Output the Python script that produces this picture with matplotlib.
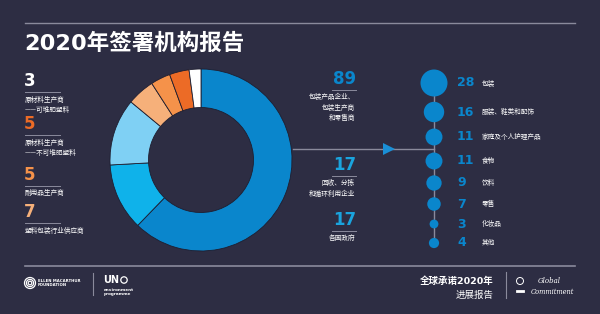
import matplotlib
matplotlib.use("Agg")
import matplotlib.pyplot as plt
from matplotlib.patches import Circle

plt.rcParams['font.family'] = ['Lato', 'Noto Sans CJK SC', 'DejaVu Sans']
CJK = ['Noto Sans CJK SC', 'DejaVu Sans']
NUM = ['DejaVu Sans']
BOLDMIX = ['DejaVu Sans', 'Noto Sans CJK SC']

BG = '#2d2d43'
GREY = '#8a8a9c'

# ---------------- data ----------------
donut_values = [89, 17, 17, 7, 5, 5, 3]
donut_colors = ['#0a86cc', '#0fb2ea', '#7fd0f4', '#f6b07a', '#f5924a', '#ec6b26', '#ffffff']

left_values = [3, 5, 5, 7]
left_labels = ['原材料生产商\n——可堆肥塑料', '原材料生产商\n——不可堆肥塑料', '耐用品生产商', '塑料包装行业供应商']
left_colors = ['#ffffff', '#ec6b26', '#f5924a', '#f6b07a']

mid_values = [89, 17, 17]
mid_labels = ['包装产品企业、\n包装生产商\n和零售商', '回收、分拣\n和循环利用企业', '各国政府']
mid_colors = ['#0a86cc', '#1aa4de', '#1aa4de']

sector_values = [28, 16, 11, 11, 9, 7, 3, 4]
sector_labels = ['包装', '服装、鞋类和配饰', '家庭及个人护理产品', '食物', '饮料', '零售', '化妆品', '其他']

title = '2020年签署机构报告'

# ---------------- figure ----------------
W, H = 600, 314
fig = plt.figure(figsize=(W / 100, H / 100), dpi=100, facecolor=BG)
ax = fig.add_axes([0, 0, 1, 1])
ax.set_xlim(0, W)
ax.set_ylim(H, 0)
ax.axis('off')
ax.set_facecolor(BG)

# title & rules
ax.plot([25, 575], [23, 23], color=GREY, lw=1)
ax.text(24, 43, title, color='white', fontsize=16.2, fontweight='bold', va='center', ha='left',
        family=BOLDMIX)
ax.plot([25, 575], [266, 266], color=GREY, lw=1.2)

# donut
cx, cy, R = 201, 160, 91
dax = fig.add_axes([(cx - R) / W, (H - cy - R) / H, 2 * R / W, 2 * R / H])
dax.pie(donut_values, colors=donut_colors, startangle=90, counterclock=False,
        radius=1, wedgeprops=dict(width=1 - 52.5 / 91, edgecolor='#1e1e30', linewidth=0.6))
dax.set_xlim(-1, 1)
dax.set_ylim(-1, 1)
dax.set_aspect('auto')
dax.axis('off')

# left annotations
left_num_y = [81, 124, 175, 212]
for v, lab, c, y in zip(left_values, left_labels, left_colors, left_num_y):
    ax.text(24, y, str(v), color=c, fontsize=12, fontweight='bold', va='center', ha='left', family=NUM)
    ax.plot([25, 60], [y + 11, y + 11], color=GREY, lw=0.7)
    ax.text(25, y + 14.5, lab, color='white', fontsize=4.8, va='top', ha='left',
            linespacing=1.45, family=CJK)

# middle annotations
mid_num_y = [79, 165, 220]
for v, lab, c, y in zip(mid_values, mid_labels, mid_colors, mid_num_y):
    ax.text(356, y, str(v), color=c, fontsize=12, fontweight='bold', va='center', ha='right', family=NUM)
    ax.plot([332, 356], [y + 11, y + 11], color=GREY, lw=0.7)
    ax.text(355, y + 14, lab, color='white', fontsize=4.8, va='top', ha='right',
            linespacing=1.45, family=CJK)

# arrow line
ax.plot([cx + R + 1, 434], [149, 149], color=GREY, lw=1)
ax.plot([389], [149], marker='>', color='#1a8fd6', markersize=8, markeredgewidth=0)

# sector dot column
sec_y = [83, 112, 137, 161, 183, 204, 224, 243]
ax.plot([434, 434], [sec_y[0], sec_y[-1]], color=GREY, lw=1, zorder=1)
ax.scatter([434] * len(sector_values), sec_y, s=[13.5 * v for v in sector_values],
           color='#0a86cc', edgecolor='none', zorder=2)
for v, lab, y in zip(sector_values, sector_labels, sec_y):
    ax.text(457, y, str(v), color='#0a86cc', fontsize=9, fontweight='bold', va='center', ha='left',
            family=NUM)
    ax.text(482, y, lab, color='white', fontsize=4.8, va='center', ha='left', family=CJK)

# footer: left logos
for r in (5.5, 3.6, 1.8):
    ax.add_patch(Circle((30, 283), r, fill=False, edgecolor='white', lw=0.9))
ax.text(38, 283, 'ELLEN MACARTHUR\nFOUNDATION', color='white', fontsize=2.8,
        fontweight='bold', va='center', ha='left', linespacing=1.1, family=NUM)
ax.plot([93, 93], [273, 295], color=GREY, lw=0.8)
ax.text(103, 280, 'UN', color='white', fontsize=7, fontweight='bold', va='center', ha='left', family=NUM)
ax.add_patch(Circle((124, 280), 3.2, fill=False, edgecolor='white', lw=0.9))
ax.text(104, 292, 'environment\nprogramme', color='white', fontsize=3, fontweight='bold',
        va='center', ha='left', linespacing=1.0, family=NUM)

# footer: right
ax.text(494, 281, '全球承诺2020年', color='white', fontsize=6.8, fontweight='bold', va='center', ha='right',
        family=BOLDMIX)
ax.text(494, 295, '进展报告', color='white', fontsize=6.8, va='center', ha='right', family=CJK)
ax.plot([506, 506], [272, 298], color=GREY, lw=0.8)
ax.add_patch(Circle((520, 281), 3.5, fill=False, edgecolor='white', lw=0.7))
ax.plot([517, 523], [291, 291], color='white', lw=2)
ax.text(538, 281, 'Global', color='white', fontsize=5, style='italic',
        family='DejaVu Serif', va='center', ha='left')
ax.text(531, 292, 'Commitment', color='white', fontsize=4.8, style='italic',
        family='DejaVu Serif', va='center', ha='left')

fig.savefig('out.png', dpi=100, facecolor=BG)
